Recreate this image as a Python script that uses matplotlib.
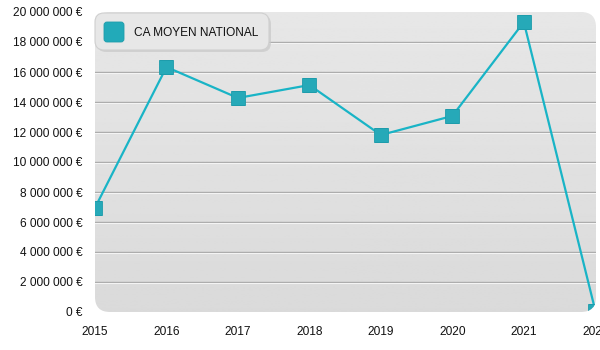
import numpy as np
import matplotlib.pyplot as plt
from matplotlib.patches import FancyBboxPatch
from matplotlib.ticker import FuncFormatter

plt.rcParams['font.family'] = ['Liberation Sans', 'DejaVu Sans']

annees = [2015, 2016, 2017, 2018, 2019, 2020, 2021, 2022]
ca_moyen = [6950000, 16330000, 14270000, 15130000, 11800000, 13070000, 19330000, 100000]
serie = 'CA MOYEN NATIONAL'

fig = plt.figure(figsize=(6, 3.5), dpi=100)
ax = fig.add_axes([95 / 600, 1 - 312 / 350, 501 / 600, 300 / 350])
ax.set_xlim(2015, 2022.01)
ax.set_ylim(0, 20000000)

# fond gris en dégradé avec coins arrondis
panel = FancyBboxPatch((0, 0), 1, 1, boxstyle='round,pad=0,rounding_size=0.03',
                       transform=ax.transAxes, facecolor='none', edgecolor='none',
                       mutation_aspect=501 / 300)
ax.add_patch(panel)
grad = np.linspace(0.905, 0.855, 256).reshape(-1, 1)
img = ax.imshow(grad, cmap='gray', vmin=0, vmax=1, aspect='auto',
                extent=[0, 1, 0, 1], transform=ax.transAxes, zorder=0)
img.set_clip_path(panel)
ax.patch.set_visible(False)

ticks = np.arange(0, 20000001, 2000000)
for t in ticks[1:-1]:
    ax.axhline(t, color='#a9a9a9', lw=1.0, zorder=1)
    ax.axhline(t - 70000, color='#f4f4f4', lw=0.8, zorder=1)

ligne, = ax.plot(annees, ca_moyen, color='#19b4c6', lw=1.6, zorder=3)
points, = ax.plot(annees, ca_moyen, ls='none', marker='s', ms=9.5, mfc='#26a9b8',
                  mec='#1e9cab', mew=0.6, zorder=4)
ligne.set_clip_path(panel)
points.set_clip_path(panel)

for s in ax.spines.values():
    s.set_visible(False)
ax.set_yticks(ticks)
ax.yaxis.set_major_formatter(FuncFormatter(
    lambda v, p: f"{int(v):,} €".replace(',', ' ')))
ax.set_xticks(annees)
ax.tick_params(length=0, labelsize=8.6, colors='#111111')
ax.tick_params(axis='y', pad=9)
ax.tick_params(axis='x', pad=10)

# légende
leg_ax = fig.add_axes([0, 0, 1, 1], facecolor='none')
leg_ax.set_xlim(0, 600)
leg_ax.set_ylim(350, 0)
leg_ax.axis('off')
leg_ax.add_patch(FancyBboxPatch((97, 15), 174, 37, boxstyle='round,pad=0,rounding_size=9',
                                facecolor='#c8c8c8', edgecolor='none', alpha=0.7))
leg_ax.add_patch(FancyBboxPatch((95, 13), 174, 37, boxstyle='round,pad=0,rounding_size=9',
                                facecolor='#e7e7e7', edgecolor='#cfcfcf', lw=0.8))
leg_ax.add_patch(FancyBboxPatch((104, 22), 20, 20, boxstyle='round,pad=0,rounding_size=3',
                                facecolor='#22aab9', edgecolor='#1e9cab', lw=0.6))
leg_ax.text(134, 32.5, serie, fontsize=8.6, va='center', ha='left', color='#111111')

fig.savefig('out.png', dpi=100)
